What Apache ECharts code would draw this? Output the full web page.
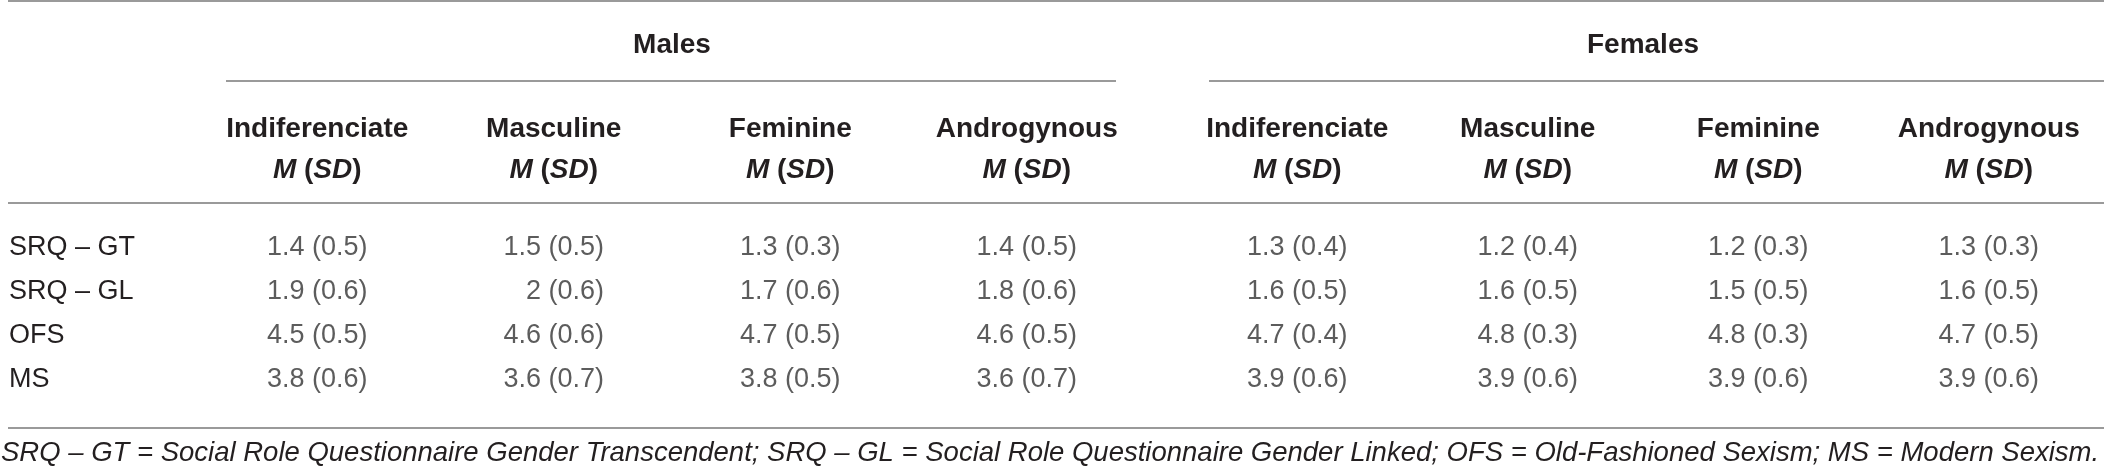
<!DOCTYPE html>
<html>
<head>
<meta charset="utf-8">
<style>
  html, body { margin: 0; padding: 0; background: #fff; }
  #main { width: 2104px; height: 471px; }
</style>
<script src="https://cdn.jsdelivr.net/npm/echarts@6/dist/echarts.min.js"></script>
</head>
<body>
<div id="main"></div>
<script>
// table content
const groupLabels = ['Males', 'Females'];
const typeLabels = ['Indiferenciate', 'Masculine', 'Feminine', 'Androgynous'];
const rowLabels = ['SRQ – GT', 'SRQ – GL', 'OFS', 'MS'];

// rows: SRQ-GT, SRQ-GL, OFS, MS; columns follow typeLabels
const malesMean = [
  [1.4, 1.5, 1.3, 1.4],
  [1.9, 2, 1.7, 1.8],
  [4.5, 4.6, 4.7, 4.6],
  [3.8, 3.6, 3.8, 3.6]
];
const malesSD = [
  [0.5, 0.5, 0.3, 0.5],
  [0.6, 0.6, 0.6, 0.6],
  [0.5, 0.6, 0.5, 0.5],
  [0.6, 0.7, 0.5, 0.7]
];
const femalesMean = [
  [1.3, 1.2, 1.2, 1.3],
  [1.6, 1.6, 1.5, 1.6],
  [4.7, 4.8, 4.8, 4.7],
  [3.9, 3.9, 3.9, 3.9]
];
const femalesSD = [
  [0.4, 0.4, 0.3, 0.3],
  [0.5, 0.5, 0.5, 0.5],
  [0.4, 0.3, 0.3, 0.5],
  [0.6, 0.6, 0.6, 0.6]
];

const footnote = 'SRQ – GT = Social Role Questionnaire Gender Transcendent; SRQ – GL = Social Role Questionnaire Gender Linked; OFS = Old-Fashioned Sexism; MS = Modern Sexism.';

var FONT = '"Helvetica Neue", Helvetica, "Liberation Sans", Arial, sans-serif';
var TEXT = '#231f20';
var RULE = '#9a9a9a';

var chartDom = document.getElementById('main');
var myChart = echarts.init(chartDom);

function cellText(m, sd) {
  // integer means are padded so the column stays right-aligned like the source
  var ms = String(m);
  if (Number.isInteger(m)) ms = '\u2007\u2008' + ms;
  return ms + ' (' + sd + ')';
}

function cells(means, sds) {
  var out = [];
  for (var r = 0; r < rowLabels.length; r++) {
    for (var c = 0; c < typeLabels.length; c++) {
      out.push([typeLabels[c], rowLabels[r], means[r][c], sds[r][c]]);
    }
  }
  return out;
}

function headerAxis(gi, name) {
  return {
    type: 'category',
    gridIndex: gi,
    position: 'top',
    data: typeLabels,
    name: name,
    nameLocation: 'middle',
    nameGap: 167,
    nameTextStyle: { fontFamily: FONT, fontSize: 28, fontWeight: 'bold', color: TEXT },
    axisLine: { show: false },
    axisTick: { show: false },
    splitLine: { show: false },
    axisLabel: {
      margin: 35,
      interval: 0,
      formatter: function (v) {
        return '{b|' + v + '}\n{i|M}{b| (}{i|SD}{b|)}';
      },
      rich: {
        b: { fontFamily: FONT, fontSize: 28, fontWeight: 'bold', color: TEXT, lineHeight: 41 },
        i: { fontFamily: FONT, fontSize: 28, fontWeight: 'bold', fontStyle: 'italic', color: TEXT, lineHeight: 41 }
      }
    }
  };
}

function rowAxis(gi, showLabels) {
  return {
    type: 'category',
    gridIndex: gi,
    inverse: true,
    data: rowLabels,
    axisLine: { show: false },
    axisTick: { show: false },
    splitLine: { show: false },
    axisLabel: {
      show: showLabels,
      align: 'left',
      margin: 190,
      fontFamily: FONT,
      fontSize: 27,
      color: TEXT
    }
  };
}

function cellSeries(gi, means, sds) {
  return {
    type: 'scatter',
    xAxisIndex: gi,
    yAxisIndex: gi,
    symbolSize: 1,
    itemStyle: { color: 'transparent' },
    silent: true,
    data: cells(means, sds),
    label: {
      show: true,
      position: 'inside',
      fontFamily: FONT,
      fontSize: 27,
      color: '#333',
      formatter: function (p) {
        return cellText(p.value[2], p.value[3]);
      }
    }
  };
}

function rule(x1, x2, y) {
  return {
    type: 'line',
    shape: { x1: x1, y1: y, x2: x2, y2: y },
    style: { stroke: RULE, lineWidth: 2 },
    silent: true
  };
}

var option = {
  backgroundColor: '#fff',
  animation: false,
  title: {
    text: footnote,
    left: 1,
    top: 440,
    padding: 0,
    textStyle: { fontFamily: FONT, fontSize: 27.5, fontWeight: 'normal', fontStyle: 'italic', color: TEXT }
  },
  grid: [
    { left: 199, width: 946, top: 226, height: 176 },
    { left: 1182, width: 946, top: 226, height: 176 }
  ],
  xAxis: [headerAxis(0, groupLabels[0]), headerAxis(1, groupLabels[1])],
  yAxis: [rowAxis(0, true), rowAxis(1, false)],
  series: [
    cellSeries(0, malesMean, malesSD),
    cellSeries(1, femalesMean, femalesSD)
  ],
  graphic: {
    elements: [
      rule(8, 2104, 1),
      rule(226, 1116, 81),
      rule(1209, 2104, 81),
      rule(8, 2104, 203),
      rule(8, 2104, 428)
    ]
  }
};

myChart.setOption(option);
</script>
</body>
</html>
